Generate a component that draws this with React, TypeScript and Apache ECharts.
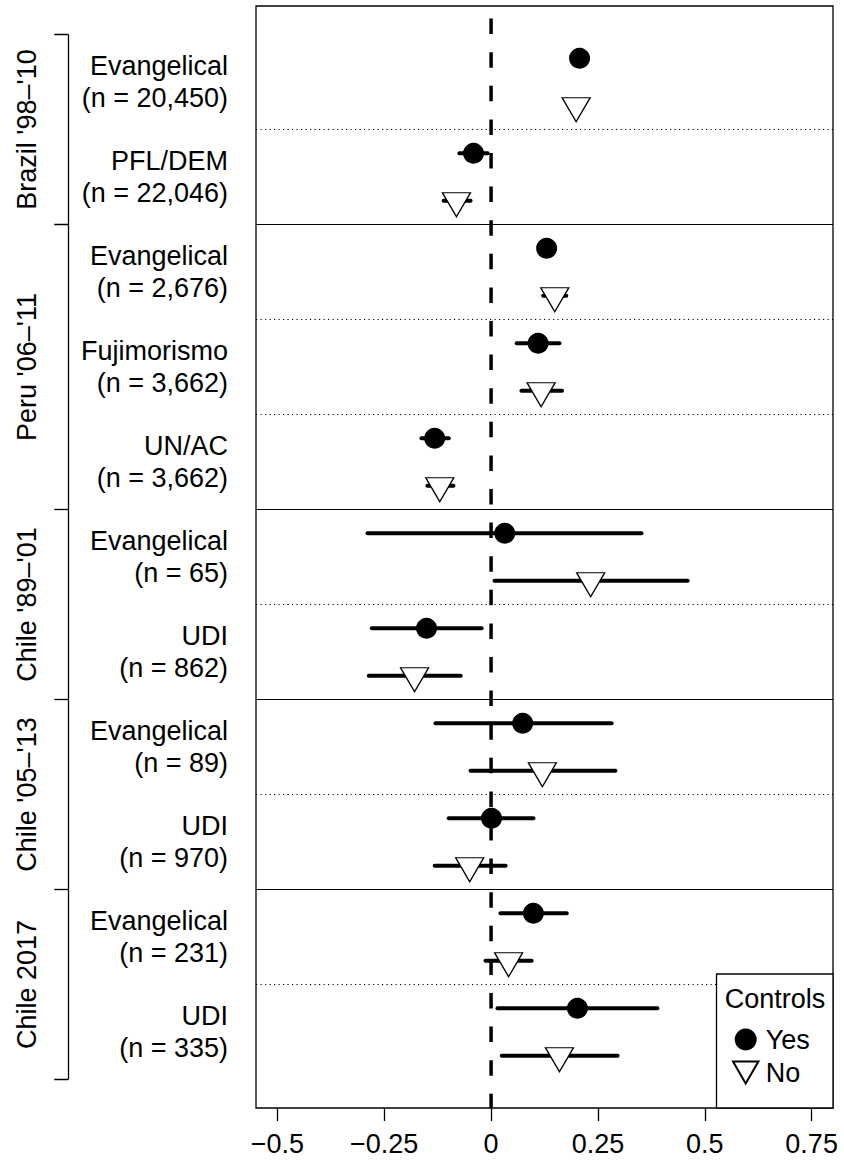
import React, { useEffect, useRef } from 'react';
import * as echarts from 'echarts';

// ---- data ----
const groupNames = ["Brazil '98–'10", "Peru '06–'11", "Chile '89–'01", "Chile '05–'13", 'Chile 2017'];
const groupBounds = [0, 2, 5, 7, 9, 11];
const itemParty = ['Evangelical', 'PFL/DEM', 'Evangelical', 'Fujimorismo', 'UN/AC', 'Evangelical', 'UDI', 'Evangelical', 'UDI', 'Evangelical', 'UDI'];
const itemN = ['20,450', '22,046', '2,676', '3,662', '3,662', '65', '862', '89', '970', '231', '335'];

const yesEst = [0.207, -0.041, 0.130, 0.110, -0.132, 0.032, -0.151, 0.074, 0.001, 0.099, 0.202];
const yesLo = [0.197, -0.074, 0.115, 0.060, -0.163, -0.289, -0.279, -0.130, -0.099, 0.022, 0.015];
const yesHi = [0.217, -0.008, 0.145, 0.160, -0.099, 0.352, -0.022, 0.282, 0.099, 0.177, 0.389];
const noEst = [0.199, -0.081, 0.149, 0.117, -0.120, 0.233, -0.179, 0.120, -0.050, 0.041, 0.160];
const noLo = [0.189, -0.111, 0.122, 0.071, -0.149, 0.008, -0.286, -0.048, -0.132, -0.013, 0.025];
const noHi = [0.209, -0.048, 0.176, 0.166, -0.088, 0.460, -0.071, 0.291, 0.034, 0.095, 0.296];

const xTicks = [-0.5, -0.25, 0, 0.25, 0.5, 0.75];

// ---- layout constants ----
const FONT = "'Liberation Sans', Arial, Helvetica, sans-serif";
const Y_MIN = -0.3;
const Y_MAX = 11.3;
const YES_OFF = 0.25;
const NO_OFF = 0.75;
const TRI = 'path://M0,0L2,0L1,1.732Z';

export default function App() {
  const ref = useRef<HTMLDivElement>(null);
  useEffect(() => {
    if (!ref.current) return;
    const chart = echarts.init(ref.current, null, { renderer: 'svg' });

    const nItems = itemParty.length;
    const itemCenters = itemParty.map((_, i) => i + 0.5);
    const groupCenters = groupNames.map((_, g) => (groupBounds[g] + groupBounds[g + 1]) / 2);
    const solidBounds = groupBounds.slice(1, -1);
    const dottedBounds: number[] = [];
    for (let b = 1; b < nItems; b++) if (!groupBounds.includes(b)) dottedBounds.push(b);

    const errData: number[][] = [];
    for (let i = 0; i < nItems; i++) {
      errData.push([yesLo[i], yesHi[i], i + YES_OFF]);
      errData.push([noLo[i], noHi[i], i + NO_OFF]);
    }
    const yesData = yesEst.map((v, i) => [v, i + YES_OFF]);
    const noData = noEst.map((v, i) => [v, i + NO_OFF]);

    const bracketData: any[] = [{ coords: [[1, groupBounds[0]], [1, groupBounds[groupBounds.length - 1]]] }];
    groupBounds.forEach((b) => bracketData.push({ coords: [[0, b], [1, b]] }));

    const fmtX = (v: number) => (v === 0 ? '0' : v < 0 ? '\u2212' + String(-v) : String(v));

    const option: any = {
      animation: false,
      textStyle: { fontFamily: FONT, color: '#000' },
      grid: [
        { left: 256, top: 6, width: 577, height: 1102, show: true, borderColor: '#000', borderWidth: 1.3, backgroundColor: 'transparent' },
        { left: 54.3, top: 6, width: 14, height: 1102, show: false },
      ],
      xAxis: [
        {
          type: 'value', gridIndex: 0, min: -0.55, max: 0.8, position: 'bottom',
          axisLine: { show: false, onZero: false }, splitLine: { show: false },
          axisTick: { show: true, customValues: xTicks, length: 13, lineStyle: { color: '#000', width: 1.3 } },
          axisLabel: { customValues: xTicks, formatter: fmtX, fontSize: 27, color: '#000', margin: 22, fontFamily: FONT },
        },
        { type: 'value', gridIndex: 1, min: 0, max: 1, show: false },
      ],
      yAxis: [
        {
          type: 'value', gridIndex: 0, min: Y_MIN, max: Y_MAX, inverse: true,
          axisLine: { show: false, onZero: false }, axisTick: { show: false }, splitLine: { show: false },
          axisLabel: {
            customValues: itemCenters,
            formatter: (v: number) => {
              const i = Math.round(v - 0.5);
              return itemParty[i] + '\n(n = ' + itemN[i] + ')';
            },
            fontSize: 27, lineHeight: 32.5, color: '#000', margin: 28, fontFamily: FONT,
            padding: [5, 0, 0, 0],
          },
        },
        {
          type: 'value', gridIndex: 1, min: Y_MIN, max: Y_MAX, inverse: true,
          axisLine: { show: false, onZero: false }, axisTick: { show: false }, splitLine: { show: false },
          axisLabel: {
            customValues: groupCenters,
            formatter: (v: number) => {
              const g = groupCenters.findIndex((c) => Math.abs(c - v) < 1e-6);
              return g >= 0 ? groupNames[g] : '';
            },
            rotate: 90, fontSize: 27, color: '#000', margin: 14, fontFamily: FONT,
          },
        },
      ],
      legend: {
        orient: 'vertical', left: 732, top: 1026, itemWidth: 30, itemHeight: 22, itemGap: 6,
        padding: 0, z: 7, selectedMode: false,
        textStyle: { fontSize: 27, color: '#000', fontFamily: FONT },
        data: ['Yes', 'No'],
      },
      graphic: [
        { type: 'rect', z: 6, shape: { x: 716.5, y: 974, width: 116.5, height: 134 }, style: { fill: '#fff', stroke: '#000', lineWidth: 1.3 } },
        { type: 'text', z: 7, x: 775, y: 999, style: { text: 'Controls', fontSize: 27, fontFamily: FONT, fill: '#000', align: 'center', verticalAlign: 'middle' } },
      ],
      series: [
        {
          type: 'line', name: 'zero', xAxisIndex: 0, yAxisIndex: 0,
          data: [[0, Y_MIN], [0, Y_MAX]], symbol: 'none', silent: true, z: 1,
          lineStyle: { color: '#000', width: 3.5, type: [15.5, 18.1], dashOffset: 20.5, cap: 'butt' },
          markLine: {
            silent: true, symbol: ['none', 'none'], label: { show: false }, z: 1,
            emphasis: { disabled: true },
            data: [
              ...solidBounds.map((b) => ({ yAxis: b, lineStyle: { type: 'solid', color: '#000', width: 1 } })),
              ...dottedBounds.map((b) => ({ yAxis: b, lineStyle: { type: [1.2, 3.3], color: '#000', width: 1 } })),
            ],
          },
        },
        {
          type: 'custom', name: 'ci', xAxisIndex: 0, yAxisIndex: 0, silent: true, z: 2,
          encode: { x: [0, 1], y: 2 },
          data: errData,
          renderItem: (params: any, api: any) => {
            const p1 = api.coord([api.value(0), api.value(2)]);
            const p2 = api.coord([api.value(1), api.value(2)]);
            return {
              type: 'line',
              shape: { x1: p1[0], y1: p1[1], x2: p2[0], y2: p2[1] },
              style: { stroke: '#000', lineWidth: 4, lineCap: 'round' },
            };
          },
        },
        {
          type: 'scatter', name: 'Yes', xAxisIndex: 0, yAxisIndex: 0, z: 3,
          data: yesData, symbol: 'circle', symbolSize: 21,
          itemStyle: { color: '#000', opacity: 1 },
        },
        {
          type: 'scatter', name: 'No', xAxisIndex: 0, yAxisIndex: 0, z: 3,
          data: noData, symbol: TRI, symbolSize: [28, 24], symbolKeepAspect: false, symbolOffset: [0, 4],
          itemStyle: { color: '#fff', borderColor: '#000', borderWidth: 1.3, opacity: 1 },
        },
        {
          type: 'lines', name: 'bracket', coordinateSystem: 'cartesian2d', xAxisIndex: 1, yAxisIndex: 1,
          silent: true, polyline: false, data: bracketData,
          lineStyle: { color: '#000', width: 1.3, opacity: 1 },
        },
      ],
    };
    chart.setOption(option);
    return () => chart.dispose();
  }, []);

  return <div ref={ref} style={{ position: 'absolute', left: 0, top: 0, width: 844, height: 1162 }} />;
}
